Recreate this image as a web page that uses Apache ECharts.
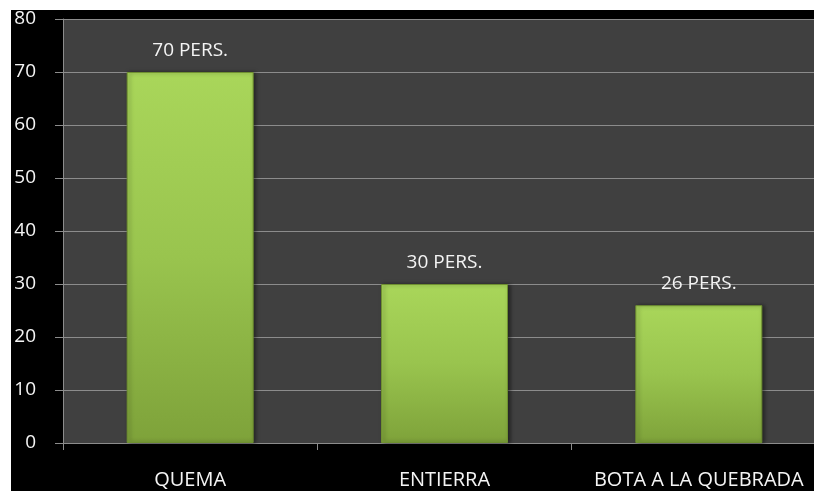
<!DOCTYPE html>
<html>
<head>
<meta charset="utf-8">
<script src="https://cdn.jsdelivr.net/npm/echarts@6/dist/echarts.min.js"></script>
<style>
  html, body { margin: 0; padding: 0; background: #ffffff; width: 814px; height: 491px; overflow: hidden; }
  #chart { position: absolute; left: 11px; top: 10px; width: 803px; height: 481px; background: #000000; }
</style>
</head>
<body>
<div id="chart"></div>
<script>
// Waste disposal method and number of people
const categories = ['QUEMA', 'ENTIERRA', 'BOTA A LA QUEBRADA'];
const persons = [70, 30, 26];
const yTicks = { min: 0, max: 80, interval: 10 };

const chart = echarts.init(document.getElementById('chart'));

const barGradient = new echarts.graphic.LinearGradient(0, 0, 0, 1, [
  { offset: 0, color: '#a9d65a' },
  { offset: 0.5, color: '#99c44e' },
  { offset: 1, color: '#7ea23a' }
]);

chart.setOption({
  animation: false,
  backgroundColor: '#000000',
  grid: {
    left: 52, top: 9, width: 763, height: 424,
    outerBoundsMode: 'none',
    containLabel: false,
    show: true, backgroundColor: '#404040', borderWidth: 0
  },
  xAxis: {
    type: 'category',
    data: categories,
    axisLine: { show: true, lineStyle: { color: '#8c8c8c', width: 1 } },
    axisTick: { show: true, length: 7, lineStyle: { color: '#8c8c8c' } },
    axisLabel: {
      color: '#f4f4f4', fontFamily: 'Open Sans', fontSize: 20,
      margin: 27, interval: 0, hideOverlap: false
    }
  },
  yAxis: {
    type: 'value',
    min: yTicks.min, max: yTicks.max, interval: yTicks.interval,
    axisLine: { show: true, lineStyle: { color: '#8c8c8c', width: 1 } },
    axisTick: { show: true, length: 8, lineStyle: { color: '#8c8c8c' } },
    splitLine: { show: true, lineStyle: { color: '#8c8c8c', width: 1 } },
    axisLabel: {
      color: '#f4f4f4', fontFamily: 'Open Sans', fontSize: 19,
      align: 'right', margin: 27
    }
  },
  series: [{
    type: 'bar',
    data: persons,
    barWidth: 127,
    itemStyle: {
      color: barGradient,
      borderColor: '#6f9030',
      borderWidth: 1,
      shadowColor: 'rgba(0,0,0,0.45)',
      shadowBlur: 4,
      shadowOffsetX: 2
    },
    label: {
      show: true,
      position: 'top',
      distance: 12,
      color: '#f4f4f4',
      fontFamily: 'Open Sans',
      fontSize: 19,
      formatter: p => p.value + ' PERS.'
    }
  }]
});
</script>
</body>
</html>
